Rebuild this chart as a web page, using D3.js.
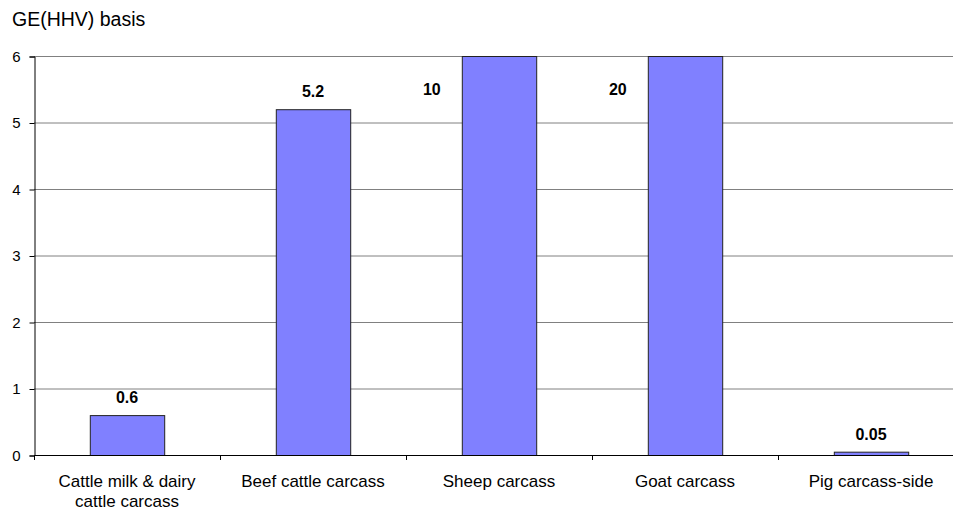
<!DOCTYPE html>
<html><head><meta charset="utf-8">
<script src="https://cdn.jsdelivr.net/npm/d3@7"></script>
<style>body{margin:0;background:#fff}svg{display:block;font-family:"Liberation Sans",Arial,sans-serif}</style>
</head><body><svg id="c" width="953" height="510"></svg>
<script>
const categories = ["Cattle milk & dairy|cattle carcass","Beef cattle carcass","Sheep carcass","Goat carcass","Pig carcass-side"];
const values = [0.6, 5.2, 10, 20, 0.05];
const labels = ["0.6","5.2","10","20","0.05"];
const yTicks = [0,1,2,3,4,5,6];
const yTitle = "GE(HHV) basis";

(function(){
const svg = d3.select("#c");
const pL = 34, pR = 964, pT = 56, pB = 455;
const x = d3.scaleBand().domain(categories).range([pL, pR]).padding(0);
const y = d3.scaleLinear().domain([0, 6]).range([pB, pT]).clamp(true);
const bw = x.bandwidth(), barW = bw * 0.4, off = bw * 0.3;

// gridlines
svg.append("g").selectAll("line").data(yTicks.filter(d=>d>0)).join("line")
  .attr("x1", pL).attr("x2", pR).attr("y1", d=>y(d)+0.5).attr("y2", d=>y(d)+0.5)
  .attr("stroke", "#808080").attr("stroke-width", 1);

// bars
svg.append("g").selectAll("rect").data(values).join("rect")
  .attr("x", (d,i)=>x(categories[i]) + off + 0.5)
  .attr("y", d=>y(d)+0.5)
  .attr("width", barW)
  .attr("height", d=>pB - y(d))
  .attr("fill", "#8080FF").attr("stroke", "#222").attr("stroke-width", 1);

// y axis
const ya = svg.append("g").attr("transform", `translate(${pL+0.5},0.5)`)
  .call(d3.axisLeft(y).tickValues(yTicks).tickSize(5).tickPadding(9).tickFormat(d3.format("d")));
ya.select(".domain").attr("stroke","#000");
ya.selectAll(".tick line").attr("stroke","#000");
ya.selectAll("text").attr("font-size", 15).attr("fill","#000").attr("font-family","Liberation Sans, Arial, sans-serif");

// x axis
svg.append("line").attr("x1", pL).attr("x2", pR).attr("y1", pB+0.5).attr("y2", pB+0.5).attr("stroke","#000");
const bounds = categories.map(c=>x(c)).concat([pR]);
svg.append("g").selectAll("line").data(bounds).join("line")
  .attr("x1", d=>Math.round(d)+0.5).attr("x2", d=>Math.round(d)+0.5)
  .attr("y1", pB).attr("y2", pB+5).attr("stroke","#000");

// category labels
const cl = svg.append("g").selectAll("text").data(categories).join("text")
  .attr("x", d=>x(d)+bw/2).attr("y", 487)
  .attr("text-anchor","middle").attr("font-size", 17).attr("fill","#000");
cl.each(function(d){
  const parts = d.split("|");
  d3.select(this).selectAll("tspan").data(parts).join("tspan")
    .attr("x", x(d)+bw/2).attr("dy", (p,j)=> j===0 ? 0 : 20).text(p=>p);
});

// data labels
svg.append("g").selectAll("text").data(values).join("text")
  .attr("x", (d,i)=> d > 6 ? x(categories[i]) + off - 30 : x(categories[i]) + bw/2)
  .attr("y", (d,i)=> d > 6 ? 95 : y(d) - 12)
  .attr("text-anchor","middle").attr("font-size", 16).attr("font-weight","bold").attr("fill","#000")
  .text((d,i)=>labels[i]);

// title
svg.append("text").attr("x", 12).attr("y", 26).attr("font-size", 19.5).attr("fill","#000").text(yTitle);
})();
</script></body></html>
